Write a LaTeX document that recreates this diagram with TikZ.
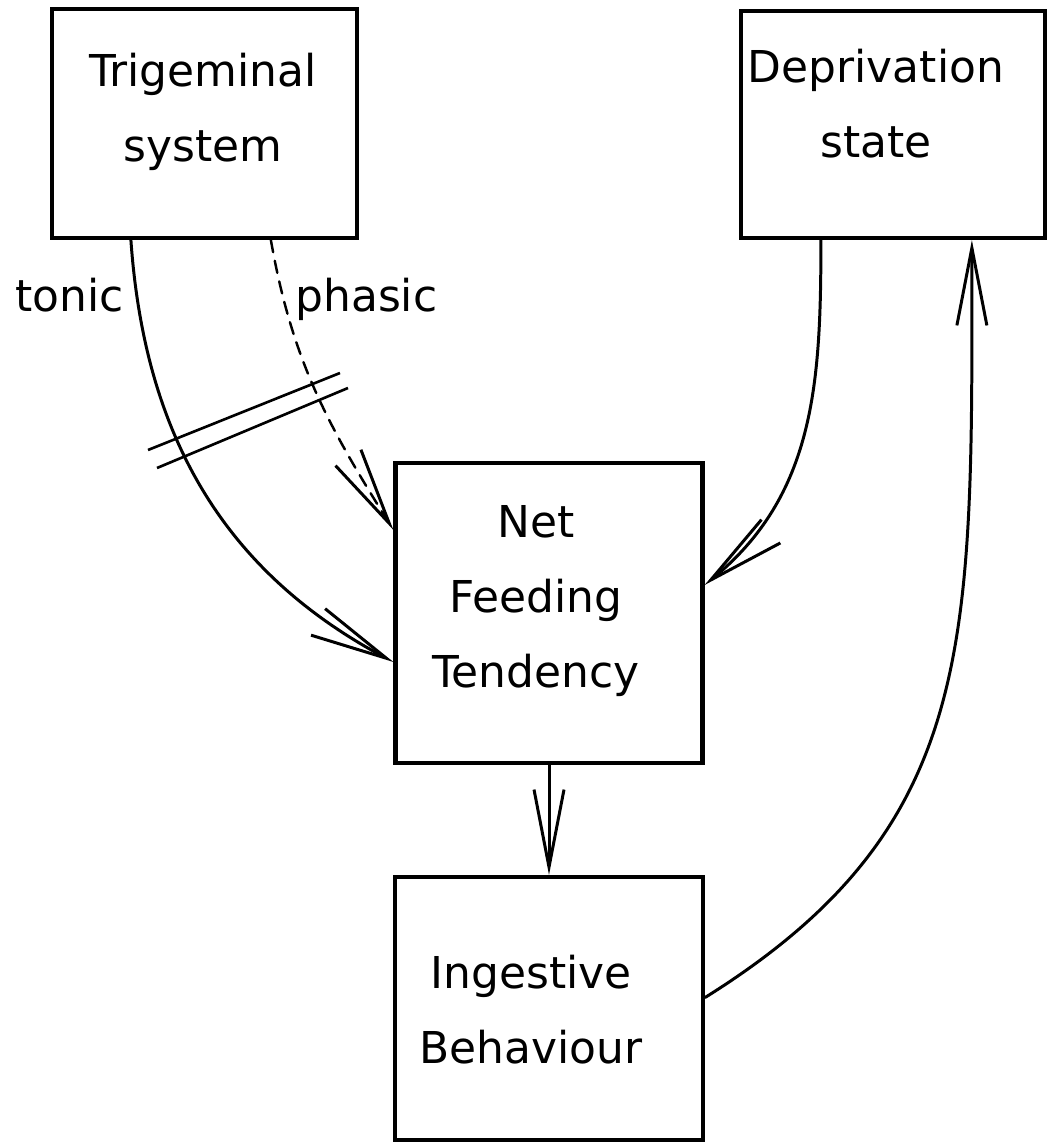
\documentclass[tikz,border=0pt]{standalone}
\usepackage{fontspec}
\setmainfont{DejaVu Sans}
\usetikzlibrary{positioning, arrows.meta, calc}

\begin{document}
\begin{tikzpicture}[x=0.02cm, y=-0.02cm,
	box/.style={draw, line width=2.4pt, inner sep=0pt},
	txt/.style={align=center, inner sep=0pt, font=\fontsize{25}{42.7}\selectfont},
	link/.style={line width=1.7pt, line cap=round,
		-{Straight Barb[length=1.55cm, width=0.6cm, line width=1.7pt]}}]
	
	\useasboundingbox (0,0) rectangle (1046,1145);
	
	%Boxes
	\node[box, minimum width=6.1cm, minimum height=4.58cm] (trig) at (204.5,123.5) {};
	\node[box, minimum width=6.08cm, minimum height=4.54cm] (dep) at (893,124.5) {};
	\node[box, minimum width=6.14cm, minimum height=6cm] (nft) at (549,613) {};
	\node[box, minimum width=6.16cm, minimum height=5.26cm] (ib) at (549,1008.5) {};
	
	%Box texts
	\node[txt] (trigtext) at (203,112) {Trigeminal\\system};
	\node[txt] (deptext) at (876,104) {Deprivation\\state};
	\node[txt] (nfttext) at (536,601) {Net\\Feeding\\Tendency};
	\node[txt] (ibtext) at (531,1009.5) {Ingestive\\Behaviour};
	
	%Tonic and phasic inputs
	\draw[link] ([xshift=1.62cm]trig.south west) to[out=-86, in=152] ([yshift=-0.98cm]nft.west);
	\draw[link, line width=1.4pt, dash pattern=on 7pt off 5pt]
		([xshift=4.42cm]trig.south west) to[out=-80, in=122] ([yshift=1.66cm]nft.west);
	\node[txt, anchor=base west] (tonic) at (15,312) {tonic};
	\node[txt, anchor=base west] (phasic) at (295,312) {phasic};
	
	%Double bar
	\draw[line width=1.5pt] (148,450) -- (340,373);
	\draw[line width=1.5pt] (157,468) -- (348,388);
	
	%Deprivation input
	\draw[link] ([xshift=1.64cm]dep.south west) to[out=-90, in=39] ([yshift=0.56cm]nft.east);
	
	%Output and feedback
	\draw[link] (nft.south) -- (ib.north);
	\draw[link] ([yshift=0.22cm]ib.east) to[out=32, in=-90, out distance=6.5cm, in distance=8cm]
		([xshift=4.66cm]dep.south west);
	
\end{tikzpicture}
\end{document}
